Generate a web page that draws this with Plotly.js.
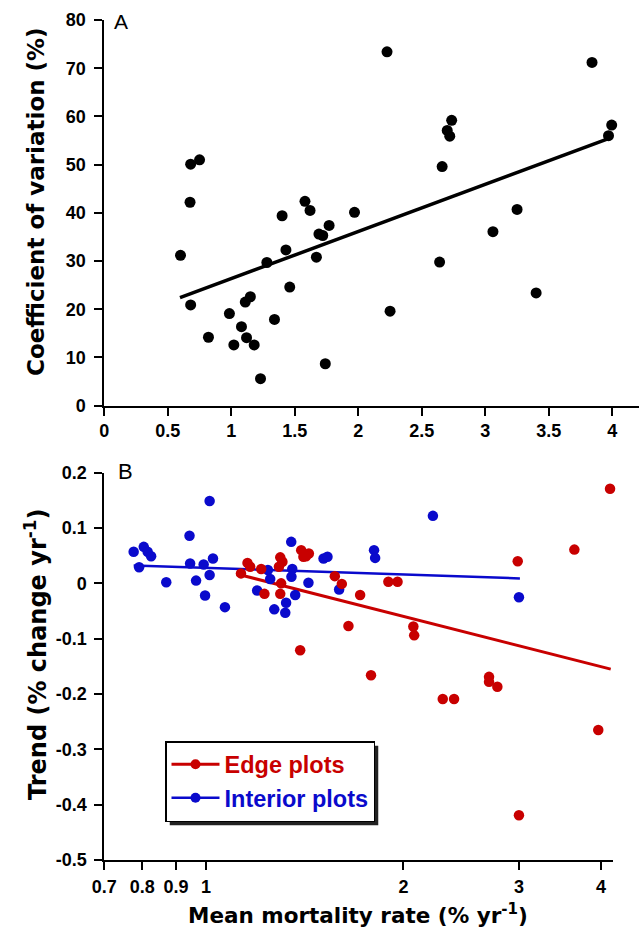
<!DOCTYPE html>
<html>
<head>
<meta charset="utf-8">
<script src="https://cdn.plot.ly/plotly-3.0.1.min.js"></script>
<style>html,body{margin:0;padding:0;background:#fff;}#chart{width:639px;height:933px;}</style>
</head>
<body>
<div id="chart"></div>
<script>
// Panel A: coefficient of variation vs mean mortality rate
const cvRate = [0.60,0.68,0.75,0.675,0.68,0.82,0.985,1.02,1.08,1.11,1.15,1.12,1.18,1.23,1.28,1.34,1.40,1.43,1.46,1.58,1.62,1.67,1.69,1.72,1.77,1.74,1.97,2.226,2.25,2.64,2.66,2.70,2.72,2.735,3.06,3.25,3.40,3.84,3.995,3.97];
const cvValue = [31.2,50.1,51.0,42.2,20.9,14.2,19.1,12.6,16.4,21.5,22.6,14.1,12.6,5.6,29.7,17.9,39.4,32.3,24.6,42.4,40.5,30.8,35.6,35.3,37.4,8.7,40.1,73.4,19.6,29.8,49.6,57.1,55.9,59.2,36.1,40.7,23.4,71.2,58.2,56.0];
const cvFitRate = [0.596, 3.98];
const cvFitValue = [22.4, 55.5];

// Panel B: trend vs mean mortality rate (log x)
const edgeRate = [1.131,1.157,1.168,1.214,1.228,1.298,1.308,1.292,1.302,1.298,1.397,1.408,1.435,1.421,1.392,1.572,1.611,1.718,1.649,1.785,1.897,1.959,2.071,2.077,2.296,2.389,2.701,2.701,2.781,2.987,3.0,3.644,3.963,4.13];
const edgeTrend = [0.018,0.037,0.030,0.026,-0.019,0.047,0.039,0.030,0.000,-0.019,0.060,0.048,0.054,0.049,-0.121,0.013,-0.001,-0.021,-0.077,-0.166,0.003,0.003,-0.078,-0.094,-0.209,-0.209,-0.169,-0.178,-0.187,0.040,-0.419,0.061,-0.265,0.171];
const interiorRate = [0.776,0.804,0.815,0.825,0.791,0.870,0.944,0.946,0.966,0.992,1.013,1.025,1.013,0.997,1.069,1.197,1.243,1.253,1.271,1.321,1.325,1.349,1.354,1.350,1.368,1.433,1.511,1.532,1.596,1.804,1.811,2.218,3.0];
const interiorTrend = [0.057,0.066,0.057,0.049,0.029,0.002,0.086,0.036,0.005,0.034,0.149,0.045,0.015,-0.022,-0.043,-0.013,0.024,0.008,-0.047,-0.053,-0.035,0.075,0.026,0.012,-0.021,0.001,0.045,0.048,-0.011,0.060,0.046,0.122,-0.025];
// fitted lines (leading null keeps the legend symbol colour without drawing a marker)
const edgeFitRate = [null, 1.115, 4.14];
const edgeFitTrend = [null, 0.0168, -0.155];
const interiorFitRate = [null, 0.776, 3.01];
const interiorFitTrend = [null, 0.0325, 0.009];

const xTicksA = [0,0.5,1,1.5,2,2.5,3,3.5,4];
const xTickTextA = ['0','0.5','1','1.5','2','2.5','3','3.5','4'];
const yTicksA = [0,10,20,30,40,50,60,70,80];
const xTicksB = [0.7,0.8,0.9,1,2,3,4];
const xTickTextB = ['0.7','0.8','0.9','1','2','3','4'];
const yTicksB = [-0.5,-0.4,-0.3,-0.2,-0.1,0,0.1,0.2];
const yTickTextB = ['-0.5','-0.4','-0.3','-0.2','-0.1','0','0.1','0.2'];

const RED = '#c80000', BLUE = '#0a0acc';
const FONT = 'Liberation Sans, Arial, Helvetica, sans-serif';
const TITLEFONT = 'DejaVu Sans, Verdana, sans-serif';
const W = 639, H = 933;
const px = v => v / W, py = v => (H - v) / H;

const tickFont = {family: FONT, size: 18, color: '#000', weight: 'bold'};
const axisCommon = {
  showline: true, linecolor: '#000', linewidth: 2,
  ticks: 'outside', ticklen: 8, tickwidth: 2, tickcolor: '#000',
  showgrid: false, zeroline: false, tickfont: tickFont, fixedrange: true
};

const traces = [
  {x: cvRate, y: cvValue, xaxis: 'x', yaxis: 'y', type: 'scatter', mode: 'markers',
   marker: {color: '#000', size: 11}, showlegend: false, cliponaxis: false},
  {x: cvFitRate, y: cvFitValue, xaxis: 'x', yaxis: 'y', type: 'scatter', mode: 'lines',
   line: {color: '#000', width: 3.5}, showlegend: false},
  {x: edgeFitRate, y: edgeFitTrend, xaxis: 'x2', yaxis: 'y2', type: 'scatter', mode: 'lines+markers',
   line: {color: RED, width: 3}, marker: {color: [RED, 'rgba(0,0,0,0)', 'rgba(0,0,0,0)'], size: 10},
   name: '<span style="color:' + RED + '">Edge plots</span>', showlegend: true},
  {x: interiorFitRate, y: interiorFitTrend, xaxis: 'x2', yaxis: 'y2', type: 'scatter', mode: 'lines+markers',
   line: {color: BLUE, width: 2.5}, marker: {color: [BLUE, 'rgba(0,0,0,0)', 'rgba(0,0,0,0)'], size: 10},
   name: '<span style="color:' + BLUE + '">Interior plots</span>', showlegend: true},
  {x: interiorRate, y: interiorTrend, xaxis: 'x2', yaxis: 'y2', type: 'scatter', mode: 'markers',
   marker: {color: BLUE, size: 10.5}, showlegend: false, cliponaxis: false},
  {x: edgeRate, y: edgeTrend, xaxis: 'x2', yaxis: 'y2', type: 'scatter', mode: 'markers',
   marker: {color: RED, size: 10.5}, showlegend: false, cliponaxis: false}
];

const layout = {
  width: W, height: H,
  margin: {l: 0, r: 0, t: 0, b: 0},
  paper_bgcolor: '#fff', plot_bgcolor: '#fff',
  font: {family: FONT, color: '#000'},
  showlegend: true,
  xaxis: Object.assign({}, axisCommon, {
    domain: [px(104.3), 1], range: [0, 4.21], anchor: 'y',
    tickvals: xTicksA, ticktext: xTickTextA, ticklabelstandoff: 0
  }),
  yaxis: Object.assign({}, axisCommon, {
    domain: [py(405.7), py(20)], range: [0, 80], anchor: 'x',
    tickvals: yTicksA, ticktext: yTicksA.map(String), ticklabelstandoff: 5
  }),
  xaxis2: Object.assign({}, axisCommon, {
    type: 'log', domain: [px(104.3), px(612.7)], range: [Math.log10(0.7), 0.620], anchor: 'y2',
    tickvals: xTicksB, ticktext: xTickTextB, ticklabelstandoff: 1
  }),
  yaxis2: Object.assign({}, axisCommon, {
    domain: [py(860), py(472.7)], range: [-0.5, 0.2], anchor: 'x2',
    tickvals: yTicksB, ticktext: yTickTextB, ticklabelstandoff: 4
  }),
  legend: {
    x: px(165), y: py(741), xanchor: 'left', yanchor: 'top',
    bgcolor: '#fff', bordercolor: '#000', borderwidth: 1.5,
    font: {family: FONT, size: 23.5, weight: 'bold'},
    itemwidth: 48, tracegroupgap: 0
  },
  annotations: [
    {text: 'A', xref: 'paper', yref: 'paper', x: px(112), y: py(22), xanchor: 'left', yanchor: 'middle',
     showarrow: false, font: {family: FONT, size: 21}},
    {text: 'B', xref: 'paper', yref: 'paper', x: px(116), y: py(471), xanchor: 'left', yanchor: 'middle',
     showarrow: false, font: {family: FONT, size: 22}},
    {text: '<b>Coefficient of variation (%)</b>', xref: 'paper', yref: 'paper', x: px(36), y: py(202),
     xanchor: 'center', yanchor: 'middle', textangle: -90, showarrow: false, font: {family: TITLEFONT, size: 23}},
    {text: '<b>Trend (% change yr<sup>-1</sup>)</b>', xref: 'paper', yref: 'paper', x: px(36), y: py(655),
     xanchor: 'center', yanchor: 'middle', textangle: -90, showarrow: false, font: {family: TITLEFONT, size: 24}},
    {text: '<b>Mean mortality rate (% yr<sup>-1</sup>)</b>', xref: 'paper', yref: 'paper', x: px(358), y: py(914),
     xanchor: 'center', yanchor: 'middle', showarrow: false, font: {family: TITLEFONT, size: 21.5}}
  ]
};

Plotly.newPlot('chart', traces, layout, {displayModeBar: false, staticPlot: true}).then(function (gd) {
  // drop shadow behind the legend box, placed from the legend's drawn size
  const bg = gd.querySelector('.legend .bg');
  const root = gd.getBoundingClientRect();
  if (bg) {
    const r = bg.getBoundingClientRect();
    const l = r.left - root.left, t = r.top - root.top;
    Plotly.relayout(gd, {shapes: [{
      type: 'rect', xref: 'paper', yref: 'paper',
      x0: px(l + 4), x1: px(l + r.width + 4), y0: py(t + r.height + 4), y1: py(t + 4),
      fillcolor: '#222', line: {width: 0}, layer: 'above'
    }]});
  }
});
</script>
</body>
</html>
